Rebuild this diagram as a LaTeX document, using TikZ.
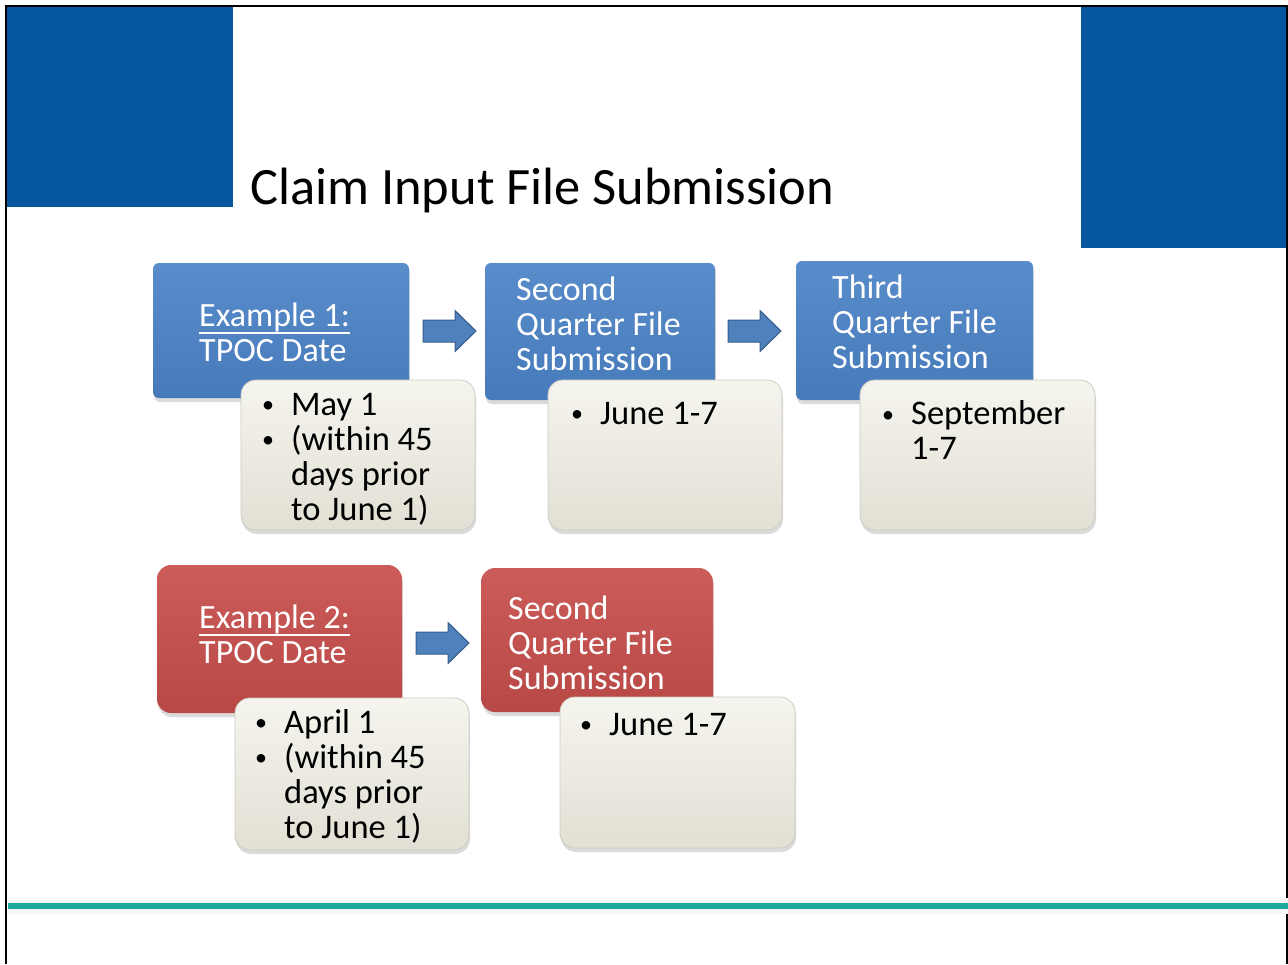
\documentclass[tikz,border=0pt]{standalone}
\usepackage{fontspec}
\setmainfont{Carlito}
\usetikzlibrary{shadows,calc}
\definecolor{hdrblue}{RGB}{4,87,158}
\definecolor{boxblueT}{RGB}{88,140,202}
\definecolor{boxblueB}{RGB}{70,122,186}
\definecolor{boxredT}{RGB}{204,92,89}
\definecolor{boxredB}{RGB}{184,72,69}
\definecolor{creamT}{RGB}{245,244,238}
\definecolor{creamB}{RGB}{226,224,212}
\definecolor{creamline}{RGB}{205,203,194}
\definecolor{tealline}{RGB}{30,167,157}
\definecolor{arrowfill}{RGB}{79,129,189}
\definecolor{arrowline}{RGB}{56,93,138}
\begin{document}
\begin{tikzpicture}[x=1pt,y=-1pt,
  shadowed/.style={drop shadow={opacity=0.28, shadow xshift=1pt, shadow yshift=-4pt}},
  bluebox/.style={rectangle, rounded corners=6pt, inner sep=0pt, outer sep=0pt, anchor=north west,
    top color=boxblueT, bottom color=boxblueB, shadowed},
  redbox/.style={rectangle, rounded corners=14pt, inner sep=0pt, outer sep=0pt, anchor=north west,
    top color=boxredT, bottom color=boxredB, shadowed},
  creambox/.style={rectangle, rounded corners=15pt, inner sep=0pt, outer sep=0pt, anchor=north west,
    top color=creamT, bottom color=creamB, draw=creamline, line width=0.8pt, shadowed},
  headtxt/.style={anchor=base west, inner sep=0pt, align=left, text=white, font=\fontsize{34}{35}\selectfont},
  bodytxt/.style={anchor=base west, inner sep=0pt, align=left, text=black, font=\fontsize{34.5}{35}\selectfont},
  bullettxt/.style={anchor=base west, inner sep=0pt, align=left, text=black, font=\fontsize{24}{35}\selectfont},
  uline/.style={white, line width=2pt},
  barrow/.pic={\draw[fill=arrowfill, draw=arrowline, line width=1pt, line join=miter]
    (0,-11) -- (32,-11) -- (32,-20.5) -- (53,0) -- (32,20.5) -- (32,11) -- (0,11) -- cycle;}
]
\useasboundingbox (0,0) rectangle (1288,964);
\fill[white] (0,0) rectangle (1288,964);

% header blocks
\fill[hdrblue] (7,7) rectangle (233,207);
\fill[hdrblue] (1081,7) rectangle (1287,248);
% frame
\draw[black, line width=1.5pt] (6,964) -- (6,6) -- (1287,6) -- (1287,964);

% title
\node[anchor=base west, inner sep=0pt, font=\fontsize{52.5}{60}\selectfont] (title) at (250,204) {Claim Input File Submission};

% ---------- Row 1 ----------
\node[bluebox, minimum width=256pt, minimum height=135pt] (b1) at (153,263) {};
\node[creambox, minimum width=234pt, minimum height=150pt] (c1) at (241,380) {};
\node[headtxt] (e1) at (199,326) {Example 1:};
\draw[uline] ($(e1.base west)+(0,7)$) -- ($(e1.base east)+(0,7)$);
\node[headtxt] (t1) at (199,361) {TPOC Date};
\node[bullettxt] (c1b) at (262,447) {•\\•};
\node[bodytxt] (c1t) at (291,520) {May 1\\(within 45\\days prior\\to June 1)};

\pic at (423,331) {barrow};

\node[bluebox, minimum width=230pt, minimum height=137pt] (b2) at (485,263) {};
\node[creambox, minimum width=234pt, minimum height=150pt] (c2) at (548,380) {};
\node[headtxt] (b2t) at (516,370) {Second\\Quarter File\\Submission};
\node[bullettxt] (c2b) at (571,421) {•};
\node[bodytxt] (c2t) at (600,424) {June 1-7};

\pic at (728,331) {barrow};

\node[bluebox, minimum width=237pt, minimum height=139pt] (b3) at (796,261) {};
\node[creambox, minimum width=235pt, minimum height=150pt] (c3) at (860,380) {};
\node[headtxt] (b3t) at (832,368) {Third\\Quarter File\\Submission};
\node[bullettxt] (c3b) at (882,422) {•};
\node[bodytxt] (c3t) at (911,459) {September\\1-7};

% ---------- Row 2 ----------
\node[redbox, minimum width=245pt, minimum height=148pt] (r1) at (157,565) {};
\node[creambox, minimum width=234pt, minimum height=152pt] (c4) at (235,698) {};
\node[headtxt] (e2) at (199,628) {Example 2:};
\draw[uline] ($(e2.base west)+(0,7)$) -- ($(e2.base east)+(0,7)$);
\node[headtxt] (t2) at (199,663) {TPOC Date};
\node[bullettxt] (c4b) at (255,765) {•\\•};
\node[bodytxt] (c4t) at (284,838) {April 1\\(within 45\\days prior\\to June 1)};

\pic at (416,643) {barrow};

\node[redbox, minimum width=232pt, minimum height=144pt] (r2) at (481,568) {};
\node[creambox, minimum width=235pt, minimum height=151pt] (c5) at (560,697) {};
\node[headtxt] (r2t) at (508,689) {Second\\Quarter File\\Submission};
\node[bullettxt] (c5b) at (580,732) {•};
\node[bodytxt] (c5t) at (609,735) {June 1-7};

% bottom rule
\fill[black!3] (8,898) rectangle (1288,914);
\fill[tealline] (8,903) rectangle (1288,909);
\end{tikzpicture}
\end{document}
